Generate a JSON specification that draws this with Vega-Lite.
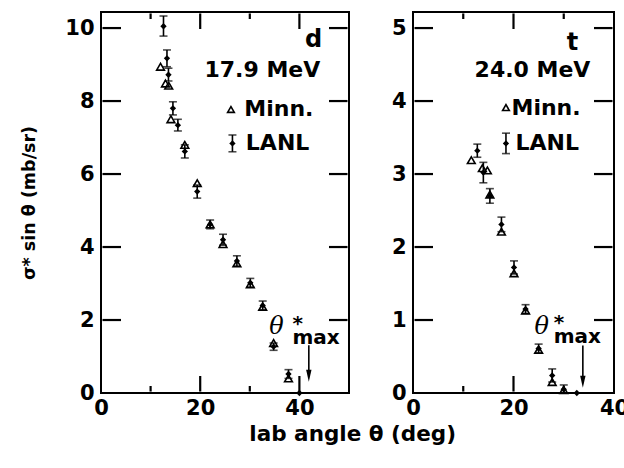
{
  "$schema": "https://vega.github.io/schema/vega-lite/v6.json",
  "background": "white",
  "padding": {"left": 19, "top": 11, "right": 0, "bottom": 0},
  "config": {
    "font": "DejaVu Sans",
    "view": {"stroke": "black", "strokeWidth": 2},
    "axis": {"domain": false, "grid": false, "ticks": false, "labelColor": "black", "labelFont": "DejaVu Sans", "labelFontWeight": "bold", "labelFontSize": 21, "titleColor": "black", "labelFlush": false, "labelOverlap": false, "title": null}
  },
  "datasets": {
    "d_xticks": [
      {"angle": 20, "lo": 0.04, "hi": 0.466}, {"angle": 40, "lo": 0.04, "hi": 0.466},
      {"angle": 20, "lo": 9.974, "hi": 10.40}, {"angle": 40, "lo": 9.974, "hi": 10.40},
      {"angle": 10, "lo": 0.04, "hi": 0.192}, {"angle": 30, "lo": 0.04, "hi": 0.192},
      {"angle": 10, "lo": 10.248, "hi": 10.40}, {"angle": 30, "lo": 10.248, "hi": 10.40}
    ],
    "d_yticks": [
      {"val": 2, "a1": 0.3, "a2": 4.03}, {"val": 4, "a1": 0.3, "a2": 4.03}, {"val": 6, "a1": 0.3, "a2": 4.03},
      {"val": 8, "a1": 0.3, "a2": 4.03}, {"val": 10, "a1": 0.3, "a2": 4.03},
      {"val": 2, "a1": 45.97, "a2": 49.7}, {"val": 4, "a1": 45.97, "a2": 49.7}, {"val": 6, "a1": 45.97, "a2": 49.7},
      {"val": 8, "a1": 45.97, "a2": 49.7}, {"val": 10, "a1": 45.97, "a2": 49.7}
    ],
    "t_xticks": [
      {"angle": 20, "lo": 0.02, "hi": 0.233}, {"angle": 20, "lo": 4.987, "hi": 5.2},
      {"angle": 10, "lo": 0.02, "hi": 0.096}, {"angle": 30, "lo": 0.02, "hi": 0.096},
      {"angle": 10, "lo": 5.124, "hi": 5.2}, {"angle": 30, "lo": 5.124, "hi": 5.2}
    ],
    "t_yticks": [
      {"val": 1, "a1": 0.3, "a2": 3.98}, {"val": 2, "a1": 0.3, "a2": 3.98}, {"val": 3, "a1": 0.3, "a2": 3.98},
      {"val": 4, "a1": 0.3, "a2": 3.98}, {"val": 5, "a1": 0.3, "a2": 3.98},
      {"val": 1, "a1": 36.02, "a2": 39.7}, {"val": 2, "a1": 36.02, "a2": 39.7}, {"val": 3, "a1": 36.02, "a2": 39.7},
      {"val": 4, "a1": 36.02, "a2": 39.7}, {"val": 5, "a1": 36.02, "a2": 39.7}
    ],
    "d_minn": [
      {"angle": 12.0, "val": 8.94}, {"angle": 13.0, "val": 8.48}, {"angle": 13.65, "val": 8.42},
      {"angle": 14.1, "val": 7.5}, {"angle": 16.9, "val": 6.8}, {"angle": 19.4, "val": 5.75},
      {"angle": 22.0, "val": 4.62}, {"angle": 24.6, "val": 4.08}, {"angle": 27.4, "val": 3.55},
      {"angle": 30.1, "val": 2.98}, {"angle": 32.6, "val": 2.36}, {"angle": 34.8, "val": 1.37},
      {"angle": 37.8, "val": 0.4}
    ],
    "d_lanl": [
      {"angle": 12.6, "val": 10.05, "lo": 9.78, "hi": 10.33},
      {"angle": 13.3, "val": 9.17, "lo": 8.94, "hi": 9.4},
      {"angle": 13.6, "val": 8.72, "lo": 8.55, "hi": 8.9},
      {"angle": 14.5, "val": 7.8, "lo": 7.62, "hi": 7.98},
      {"angle": 15.5, "val": 7.34, "lo": 7.18, "hi": 7.5},
      {"angle": 16.9, "val": 6.62, "lo": 6.44, "hi": 6.8},
      {"angle": 19.4, "val": 5.52, "lo": 5.34, "hi": 5.7},
      {"angle": 22.0, "val": 4.62, "lo": 4.5, "hi": 4.74},
      {"angle": 24.6, "val": 4.2, "lo": 4.05, "hi": 4.35},
      {"angle": 27.4, "val": 3.62, "lo": 3.48, "hi": 3.76},
      {"angle": 30.1, "val": 3.02, "lo": 2.9, "hi": 3.14},
      {"angle": 32.6, "val": 2.4, "lo": 2.28, "hi": 2.52},
      {"angle": 34.8, "val": 1.27, "lo": 1.17, "hi": 1.37},
      {"angle": 37.8, "val": 0.52, "lo": 0.4, "hi": 0.64},
      {"angle": 40.0, "val": 0.0, "lo": null, "hi": null}
    ],
    "d_leg_minn": [{"angle": 26.2, "val": 7.77}],
    "d_leg_lanl": [{"angle": 26.5, "val": 6.84, "lo": 6.61, "hi": 7.07}],
    "d_rtext": [
      {"angle": 44.6, "val": 9.67, "text": "d", "size": 24},
      {"angle": 44.2, "val": 8.85, "text": "17.9 MeV", "size": 22}
    ],
    "d_ltext": [
      {"angle": 28.9, "val": 7.77, "text": "Minn."},
      {"angle": 29.2, "val": 6.84, "text": "LANL"}
    ],
    "d_arrow": [{"angle": 41.9, "top": 1.31, "bottom": 0.5, "head": 0.47}],
    "d_theta": [{"angle": 35.4, "val": 1.81}],
    "d_max": [{"angle": 38.6, "val": 1.88, "text": ["*", "max"]}],

    "t_minn": [
      {"angle": 11.6, "val": 3.19}, {"angle": 13.8, "val": 3.08}, {"angle": 14.8, "val": 3.05},
      {"angle": 15.3, "val": 2.72}, {"angle": 17.6, "val": 2.21}, {"angle": 20.1, "val": 1.64},
      {"angle": 22.4, "val": 1.13}, {"angle": 25.0, "val": 0.59}, {"angle": 27.7, "val": 0.15},
      {"angle": 30.0, "val": 0.04}
    ],
    "t_lanl": [
      {"angle": 12.8, "val": 3.32, "lo": 3.23, "hi": 3.41},
      {"angle": 14.0, "val": 3.02, "lo": 2.88, "hi": 3.16},
      {"angle": 15.3, "val": 2.7, "lo": 2.6, "hi": 2.8},
      {"angle": 17.6, "val": 2.31, "lo": 2.21, "hi": 2.41},
      {"angle": 20.1, "val": 1.72, "lo": 1.63, "hi": 1.81},
      {"angle": 22.4, "val": 1.15, "lo": 1.09, "hi": 1.21},
      {"angle": 25.0, "val": 0.61, "lo": 0.55, "hi": 0.67},
      {"angle": 27.7, "val": 0.24, "lo": 0.15, "hi": 0.33},
      {"angle": 30.0, "val": 0.05, "lo": 0.0, "hi": 0.11},
      {"angle": 32.6, "val": 0.0, "lo": null, "hi": null}
    ],
    "t_leg_minn": [{"angle": 18.5, "val": 3.91}],
    "t_leg_lanl": [{"angle": 18.5, "val": 3.42, "lo": 3.28, "hi": 3.56}],
    "t_rtext": [
      {"angle": 32.9, "val": 4.8, "text": "t", "size": 24},
      {"angle": 35.3, "val": 4.42, "text": "24.0 MeV", "size": 22}
    ],
    "t_ltext": [
      {"angle": 19.6, "val": 3.91, "text": "Minn."},
      {"angle": 20.4, "val": 3.42, "text": "LANL"}
    ],
    "t_arrow": [{"angle": 33.8, "top": 0.65, "bottom": 0.18, "head": 0.155}],
    "t_theta": [{"angle": 25.6, "val": 0.91}],
    "t_max": [{"angle": 28.0, "val": 0.96, "text": ["*", "max"]}]
  },
  "title": {"text": "lab angle θ (deg)", "orient": "bottom", "anchor": "middle", "font": "DejaVu Sans", "fontWeight": "bold", "fontSize": 21.5, "color": "black", "offset": 5, "dx": 28},
  "spacing": 40,
  "hconcat": [
    {
      "width": 248, "height": 381,
      "resolve": {"axis": {"x": "independent", "y": "independent"}},
      "layer": [
        {
          "data": {"name": "d_minn"},
          "mark": {"type": "point", "shape": "triangle-up", "filled": false, "stroke": "black", "strokeWidth": 1.6, "size": 60, "opacity": 1},
          "encoding": {
            "x": {"field": "angle", "type": "quantitative", "scale": {"domain": [0, 50], "nice": false, "zero": false},
              "axis": {"orient": "bottom", "values": [0, 20, 40], "labelPadding": 4}},
            "y": {"field": "val", "type": "quantitative", "scale": {"domain": [0, 10.44], "nice": false, "zero": false},
              "axis": {"orient": "left", "values": [0, 2, 4, 6, 8, 10], "labelPadding": 7, "title": "σ* sin θ (mb/sr)", "titleFont": "DejaVu Sans", "titleFontWeight": "bold", "titleFontSize": 17.5, "titlePadding": 26}}
          }
        },
        {
          "data": {"name": "d_lanl"},
          "mark": {"type": "rule", "color": "black", "strokeWidth": 1.6},
          "encoding": {"x": {"field": "angle", "type": "quantitative", "axis": null}, "y": {"field": "lo", "type": "quantitative", "axis": null}, "y2": {"field": "hi"}}
        },
        {
          "data": {"name": "d_xticks"},
          "mark": {"type": "rule", "color": "black", "strokeWidth": 2.2, "opacity": 1},
          "encoding": {"x": {"field": "angle", "type": "quantitative", "axis": null}, "y": {"field": "lo", "type": "quantitative", "axis": null}, "y2": {"field": "hi"}}
        },
        {
          "data": {"name": "d_yticks"},
          "mark": {"type": "rule", "color": "black", "strokeWidth": 2.2, "opacity": 1},
          "encoding": {"x": {"field": "a1", "type": "quantitative", "axis": null}, "x2": {"field": "a2"}, "y": {"field": "val", "type": "quantitative", "axis": null}}
        },
        {
          "data": {"name": "d_lanl"},
          "mark": {"type": "tick", "orient": "horizontal", "color": "black", "size": 8, "thickness": 1.6},
          "encoding": {"x": {"field": "angle", "type": "quantitative", "axis": null}, "y": {"field": "lo", "type": "quantitative", "axis": null}}
        },
        {
          "data": {"name": "d_lanl"},
          "mark": {"type": "tick", "orient": "horizontal", "color": "black", "size": 8, "thickness": 1.6},
          "encoding": {"x": {"field": "angle", "type": "quantitative", "axis": null}, "y": {"field": "hi", "type": "quantitative", "axis": null}}
        },
        {
          "data": {"name": "d_lanl"},
          "mark": {"type": "point", "shape": "diamond", "filled": true, "color": "black", "size": 40, "opacity": 1},
          "encoding": {"x": {"field": "angle", "type": "quantitative", "axis": null}, "y": {"field": "val", "type": "quantitative", "axis": null}}
        },
        {
          "data": {"name": "d_leg_minn"},
          "mark": {"type": "point", "shape": "triangle-up", "filled": false, "stroke": "black", "strokeWidth": 1.6, "size": 45, "opacity": 1},
          "encoding": {"x": {"field": "angle", "type": "quantitative", "axis": null}, "y": {"field": "val", "type": "quantitative", "axis": null}}
        },
        {
          "data": {"name": "d_leg_lanl"},
          "mark": {"type": "rule", "color": "black", "strokeWidth": 1.6},
          "encoding": {"x": {"field": "angle", "type": "quantitative", "axis": null}, "y": {"field": "lo", "type": "quantitative", "axis": null}, "y2": {"field": "hi"}}
        },
        {
          "data": {"name": "d_leg_lanl"},
          "mark": {"type": "tick", "orient": "horizontal", "color": "black", "size": 8, "thickness": 1.6},
          "encoding": {"x": {"field": "angle", "type": "quantitative", "axis": null}, "y": {"field": "lo", "type": "quantitative", "axis": null}}
        },
        {
          "data": {"name": "d_leg_lanl"},
          "mark": {"type": "tick", "orient": "horizontal", "color": "black", "size": 8, "thickness": 1.6},
          "encoding": {"x": {"field": "angle", "type": "quantitative", "axis": null}, "y": {"field": "hi", "type": "quantitative", "axis": null}}
        },
        {
          "data": {"name": "d_leg_lanl"},
          "mark": {"type": "point", "shape": "diamond", "filled": true, "color": "black", "size": 40, "opacity": 1},
          "encoding": {"x": {"field": "angle", "type": "quantitative", "axis": null}, "y": {"field": "val", "type": "quantitative", "axis": null}}
        },
        {
          "data": {"name": "d_rtext"},
          "mark": {"type": "text", "align": "right", "baseline": "middle", "font": "DejaVu Sans", "fontWeight": "bold", "color": "black"},
          "encoding": {"x": {"field": "angle", "type": "quantitative", "axis": null}, "y": {"field": "val", "type": "quantitative", "axis": null}, "text": {"field": "text"}, "size": {"field": "size", "type": "quantitative", "scale": null}}
        },
        {
          "data": {"name": "d_ltext"},
          "mark": {"type": "text", "align": "left", "baseline": "middle", "font": "DejaVu Sans", "fontWeight": "bold", "fontSize": 22, "color": "black"},
          "encoding": {"x": {"field": "angle", "type": "quantitative", "axis": null}, "y": {"field": "val", "type": "quantitative", "axis": null}, "text": {"field": "text"}}
        },
        {
          "data": {"name": "d_arrow"},
          "mark": {"type": "rule", "color": "black", "strokeWidth": 1.6},
          "encoding": {"x": {"field": "angle", "type": "quantitative", "axis": null}, "y": {"field": "top", "type": "quantitative", "axis": null}, "y2": {"field": "bottom"}}
        },
        {
          "data": {"name": "d_arrow"},
          "mark": {"type": "point", "shape": "M-0.45,-1L0.45,-1L0,1Z", "filled": true, "color": "black", "size": 144, "opacity": 1},
          "encoding": {"x": {"field": "angle", "type": "quantitative", "axis": null}, "y": {"field": "head", "type": "quantitative", "axis": null}}
        },
        {
          "data": {"name": "d_theta"},
          "mark": {"type": "text", "text": "θ", "align": "center", "baseline": "middle", "font": "DejaVu Serif", "fontStyle": "italic", "fontSize": 24, "color": "black"},
          "encoding": {"x": {"field": "angle", "type": "quantitative", "axis": null}, "y": {"field": "val", "type": "quantitative", "axis": null}}
        },
        {
          "data": {"name": "d_max"},
          "mark": {"type": "text", "align": "left", "baseline": "middle", "font": "DejaVu Sans", "fontWeight": "bold", "fontSize": 20, "lineHeight": 14, "color": "black"},
          "encoding": {"x": {"field": "angle", "type": "quantitative", "axis": null}, "y": {"field": "val", "type": "quantitative", "axis": null}, "text": {"field": "text"}}
        }
      ]
    },
    {
      "width": 201, "height": 381,
      "resolve": {"axis": {"x": "independent", "y": "independent"}},
      "layer": [
        {
          "data": {"name": "t_minn"},
          "mark": {"type": "point", "shape": "triangle-up", "filled": false, "stroke": "black", "strokeWidth": 1.6, "size": 60, "opacity": 1},
          "encoding": {
            "x": {"field": "angle", "type": "quantitative", "scale": {"domain": [0, 40], "nice": false, "zero": false},
              "axis": {"orient": "bottom", "values": [0, 20, 40], "labelPadding": 4}},
            "y": {"field": "val", "type": "quantitative", "scale": {"domain": [0, 5.22], "nice": false, "zero": false},
              "axis": {"orient": "left", "values": [0, 1, 2, 3, 4, 5], "labelPadding": 7}}
          }
        },
        {
          "data": {"name": "t_lanl"},
          "mark": {"type": "rule", "color": "black", "strokeWidth": 1.6},
          "encoding": {"x": {"field": "angle", "type": "quantitative", "axis": null}, "y": {"field": "lo", "type": "quantitative", "axis": null}, "y2": {"field": "hi"}}
        },
        {
          "data": {"name": "t_xticks"},
          "mark": {"type": "rule", "color": "black", "strokeWidth": 2.2, "opacity": 1},
          "encoding": {"x": {"field": "angle", "type": "quantitative", "axis": null}, "y": {"field": "lo", "type": "quantitative", "axis": null}, "y2": {"field": "hi"}}
        },
        {
          "data": {"name": "t_yticks"},
          "mark": {"type": "rule", "color": "black", "strokeWidth": 2.2, "opacity": 1},
          "encoding": {"x": {"field": "a1", "type": "quantitative", "axis": null}, "x2": {"field": "a2"}, "y": {"field": "val", "type": "quantitative", "axis": null}}
        },
        {
          "data": {"name": "t_lanl"},
          "mark": {"type": "tick", "orient": "horizontal", "color": "black", "size": 8, "thickness": 1.6},
          "encoding": {"x": {"field": "angle", "type": "quantitative", "axis": null}, "y": {"field": "lo", "type": "quantitative", "axis": null}}
        },
        {
          "data": {"name": "t_lanl"},
          "mark": {"type": "tick", "orient": "horizontal", "color": "black", "size": 8, "thickness": 1.6},
          "encoding": {"x": {"field": "angle", "type": "quantitative", "axis": null}, "y": {"field": "hi", "type": "quantitative", "axis": null}}
        },
        {
          "data": {"name": "t_lanl"},
          "mark": {"type": "point", "shape": "diamond", "filled": true, "color": "black", "size": 40, "opacity": 1},
          "encoding": {"x": {"field": "angle", "type": "quantitative", "axis": null}, "y": {"field": "val", "type": "quantitative", "axis": null}}
        },
        {
          "data": {"name": "t_leg_minn"},
          "mark": {"type": "point", "shape": "triangle-up", "filled": false, "stroke": "black", "strokeWidth": 1.6, "size": 45, "opacity": 1},
          "encoding": {"x": {"field": "angle", "type": "quantitative", "axis": null}, "y": {"field": "val", "type": "quantitative", "axis": null}}
        },
        {
          "data": {"name": "t_leg_lanl"},
          "mark": {"type": "rule", "color": "black", "strokeWidth": 1.6},
          "encoding": {"x": {"field": "angle", "type": "quantitative", "axis": null}, "y": {"field": "lo", "type": "quantitative", "axis": null}, "y2": {"field": "hi"}}
        },
        {
          "data": {"name": "t_leg_lanl"},
          "mark": {"type": "tick", "orient": "horizontal", "color": "black", "size": 8, "thickness": 1.6},
          "encoding": {"x": {"field": "angle", "type": "quantitative", "axis": null}, "y": {"field": "lo", "type": "quantitative", "axis": null}}
        },
        {
          "data": {"name": "t_leg_lanl"},
          "mark": {"type": "tick", "orient": "horizontal", "color": "black", "size": 8, "thickness": 1.6},
          "encoding": {"x": {"field": "angle", "type": "quantitative", "axis": null}, "y": {"field": "hi", "type": "quantitative", "axis": null}}
        },
        {
          "data": {"name": "t_leg_lanl"},
          "mark": {"type": "point", "shape": "diamond", "filled": true, "color": "black", "size": 40, "opacity": 1},
          "encoding": {"x": {"field": "angle", "type": "quantitative", "axis": null}, "y": {"field": "val", "type": "quantitative", "axis": null}}
        },
        {
          "data": {"name": "t_rtext"},
          "mark": {"type": "text", "align": "right", "baseline": "middle", "font": "DejaVu Sans", "fontWeight": "bold", "color": "black"},
          "encoding": {"x": {"field": "angle", "type": "quantitative", "axis": null}, "y": {"field": "val", "type": "quantitative", "axis": null}, "text": {"field": "text"}, "size": {"field": "size", "type": "quantitative", "scale": null}}
        },
        {
          "data": {"name": "t_ltext"},
          "mark": {"type": "text", "align": "left", "baseline": "middle", "font": "DejaVu Sans", "fontWeight": "bold", "fontSize": 22, "color": "black"},
          "encoding": {"x": {"field": "angle", "type": "quantitative", "axis": null}, "y": {"field": "val", "type": "quantitative", "axis": null}, "text": {"field": "text"}}
        },
        {
          "data": {"name": "t_arrow"},
          "mark": {"type": "rule", "color": "black", "strokeWidth": 1.6},
          "encoding": {"x": {"field": "angle", "type": "quantitative", "axis": null}, "y": {"field": "top", "type": "quantitative", "axis": null}, "y2": {"field": "bottom"}}
        },
        {
          "data": {"name": "t_arrow"},
          "mark": {"type": "point", "shape": "M-0.45,-1L0.45,-1L0,1Z", "filled": true, "color": "black", "size": 144, "opacity": 1},
          "encoding": {"x": {"field": "angle", "type": "quantitative", "axis": null}, "y": {"field": "head", "type": "quantitative", "axis": null}}
        },
        {
          "data": {"name": "t_theta"},
          "mark": {"type": "text", "text": "θ", "align": "center", "baseline": "middle", "font": "DejaVu Serif", "fontStyle": "italic", "fontSize": 24, "color": "black"},
          "encoding": {"x": {"field": "angle", "type": "quantitative", "axis": null}, "y": {"field": "val", "type": "quantitative", "axis": null}}
        },
        {
          "data": {"name": "t_max"},
          "mark": {"type": "text", "align": "left", "baseline": "middle", "font": "DejaVu Sans", "fontWeight": "bold", "fontSize": 20, "lineHeight": 14, "color": "black"},
          "encoding": {"x": {"field": "angle", "type": "quantitative", "axis": null}, "y": {"field": "val", "type": "quantitative", "axis": null}, "text": {"field": "text"}}
        }
      ]
    }
  ]
}
